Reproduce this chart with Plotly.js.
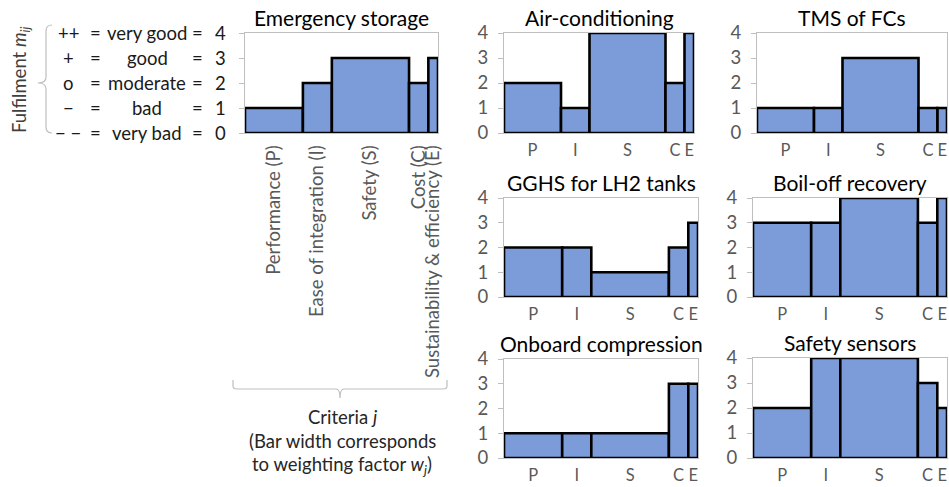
<!DOCTYPE html>
<html><head><meta charset="utf-8">
<script src="https://cdn.plot.ly/plotly-3.0.1.min.js"></script>
<style>html,body{margin:0;padding:0;background:#fff}#chart{width:949px;height:487px}</style>
</head><body><div id="chart"></div>
<script>
// ---- data ----
const criteria = ['Performance (P)', 'Ease of integration (I)', 'Safety (S)', 'Cost (C)', 'Sustainability & efficiency (E)'];
const criteriaShort = ['P', 'I', 'S', 'C', 'E'];
const weights = [0.30, 0.15, 0.40, 0.10, 0.05];
const systems = ['Emergency storage', 'Air-conditioning', 'TMS of FCs', 'GGHS for LH2 tanks', 'Boil-off recovery', 'Onboard compression', 'Safety sensors'];
const emergencyStorage = [1, 2, 3, 2, 3];
const airConditioning = [2, 1, 4, 2, 4];
const tmsOfFCs = [1, 1, 3, 1, 1];
const gghsLH2 = [2, 2, 1, 2, 3];
const boilOffRecovery = [3, 3, 4, 3, 4];
const onboardCompression = [1, 1, 1, 3, 3];
const safetySensors = [2, 4, 4, 3, 2];
const scaleSymbols = ['++', '+', 'o', '\u2212', '\u2212 \u2212'];
const scaleWords = ['very good', 'good', 'moderate', 'bad', 'very bad'];
const scaleValues = [4, 3, 2, 1, 0];

const systemValues = [emergencyStorage, airConditioning, tmsOfFCs, gghsLH2, boilOffRecovery, onboardCompression, safetySensors];

// ---- layout geometry (pixels) ----
const W = 949, H = 487;
const boxes = [
  [245, 438, 33, 133],
  [504, 694, 33, 133],
  [757, 947, 33, 133],
  [504, 698, 198, 297],
  [753, 947, 198, 297],
  [504, 698, 359, 458],
  [753, 947, 358, 458]
];
const px = v => v / W;
const py = v => 1 - v / H;

// bar centres from weights
const centers = [];
let cum = 0;
weights.forEach(w => { centers.push(cum + w / 2); cum += w; });

const FONT = 'Lato, "Open Sans", sans-serif';
const barColor = '#7b9cd8';
const grey = '#bfbfbf';

const traces = [];
const layout = {
  width: W, height: H,
  margin: {l: 0, r: 0, t: 0, b: 0},
  paper_bgcolor: '#fff', plot_bgcolor: '#fff',
  showlegend: false,
  font: {family: FONT, color: '#595959'},
  annotations: [], shapes: []
};

systems.forEach((name, i) => {
  const k = i === 0 ? '' : String(i + 1);
  const b = boxes[i];
  traces.push({
    type: 'bar', x: centers, y: systemValues[i], width: weights,
    xaxis: 'x' + k, yaxis: 'y' + k,
    marker: {color: barColor, line: {color: '#000', width: 2.6}},
    hoverinfo: 'none'
  });
  layout['xaxis' + k] = {
    domain: [px(b[0]), px(b[1])], anchor: 'y' + k, range: [0, 1],
    showline: true, linecolor: grey, linewidth: 1, mirror: true,
    showgrid: false, zeroline: false, ticks: '',
    tickmode: 'array', tickvals: centers,
    ticktext: i === 0 ? criteria : criteriaShort,
    tickangle: i === 0 ? -90 : 0,
    ticklabelstandoff: i === 0 ? 4 : 2,
    tickfont: {size: i === 0 ? 18.5 : 16.5, color: '#595959', family: FONT},
    fixedrange: true
  };
  layout['yaxis' + k] = {
    domain: [py(b[3]), py(b[2])], anchor: 'x' + k, range: [0, 4],
    tickmode: 'linear', tick0: 0, dtick: 1,
    ticks: 'outside', ticklen: 5, tickcolor: grey, tickwidth: 1,
    showline: true, linecolor: grey, linewidth: 1, mirror: true,
    showgrid: false, zeroline: false,
    showticklabels: i !== 0,
    ticklabelstandoff: 6,
    tickfont: {size: 18.5, color: '#595959', family: FONT},
    fixedrange: true
  };
  layout.annotations.push({
    xref: 'paper', yref: 'paper', x: px((b[0] + b[1]) / 2), y: py(b[2] - 16),
    xanchor: 'center', yanchor: 'middle', showarrow: false,
    text: name, font: {size: 21, color: '#000', family: FONT}
  });
});

// left scale legend
const rowsY = [33, 58, 83, 108, 133];
rowsY.forEach((yy, r) => {
  const cols = [[68, scaleSymbols[r]], [95, '='], [147, scaleWords[r]], [197, '='], [220, String(scaleValues[r])]];
  cols.forEach(c => layout.annotations.push({
    xref: 'paper', yref: 'paper', x: px(c[0]), y: py(yy), xanchor: 'center', yanchor: 'middle',
    showarrow: false, text: c[1], font: {size: 18.5, color: '#1a1a1a', family: FONT}
  }));
});
layout.annotations.push({
  xref: 'paper', yref: 'paper', x: px(20), y: py(80), xanchor: 'center', yanchor: 'middle',
  showarrow: false, textangle: -90, text: 'Fulfilment <i>m</i><sub><i>ij</i></sub>',
  font: {size: 18.5, color: '#404040', family: FONT}
});
// left brace
layout.shapes.push({
  type: 'path', xref: 'paper', yref: 'paper', line: {color: grey, width: 1.2},
  path: `M ${px(52)} ${py(25)} Q ${px(46)} ${py(25)} ${px(46)} ${py(31)} L ${px(46)} ${py(77)} Q ${px(46)} ${py(83)} ${px(38)} ${py(83)} Q ${px(46)} ${py(83)} ${px(46)} ${py(89)} L ${px(46)} ${py(127)} Q ${px(46)} ${py(133)} ${px(52)} ${py(133)}`
});
// bottom brace
layout.shapes.push({
  type: 'path', xref: 'paper', yref: 'paper', line: {color: grey, width: 1.2},
  path: `M ${px(233)} ${py(380)} L ${px(233)} ${py(386)} Q ${px(233)} ${py(389)} ${px(237)} ${py(389)} L ${px(336)} ${py(389)} Q ${px(340)} ${py(389)} ${px(340)} ${py(398)} Q ${px(340)} ${py(389)} ${px(344)} ${py(389)} L ${px(443)} ${py(389)} Q ${px(447)} ${py(389)} ${px(447)} ${py(386)} L ${px(447)} ${py(380)}`
});
const bottomLines = ['Criteria <i>j</i>', '(Bar width corresponds', 'to weighting factor <i>w</i><sub><i>j</i></sub>)'];
[417, 441, 465].forEach((yy, r) => layout.annotations.push({
  xref: 'paper', yref: 'paper', x: px(342), y: py(yy), xanchor: 'center', yanchor: 'middle',
  showarrow: false, text: bottomLines[r], font: {size: 18.5, color: '#262626', family: FONT}
}));

Plotly.newPlot('chart', traces, layout, {staticPlot: true, displayModeBar: false});
</script></body></html>
